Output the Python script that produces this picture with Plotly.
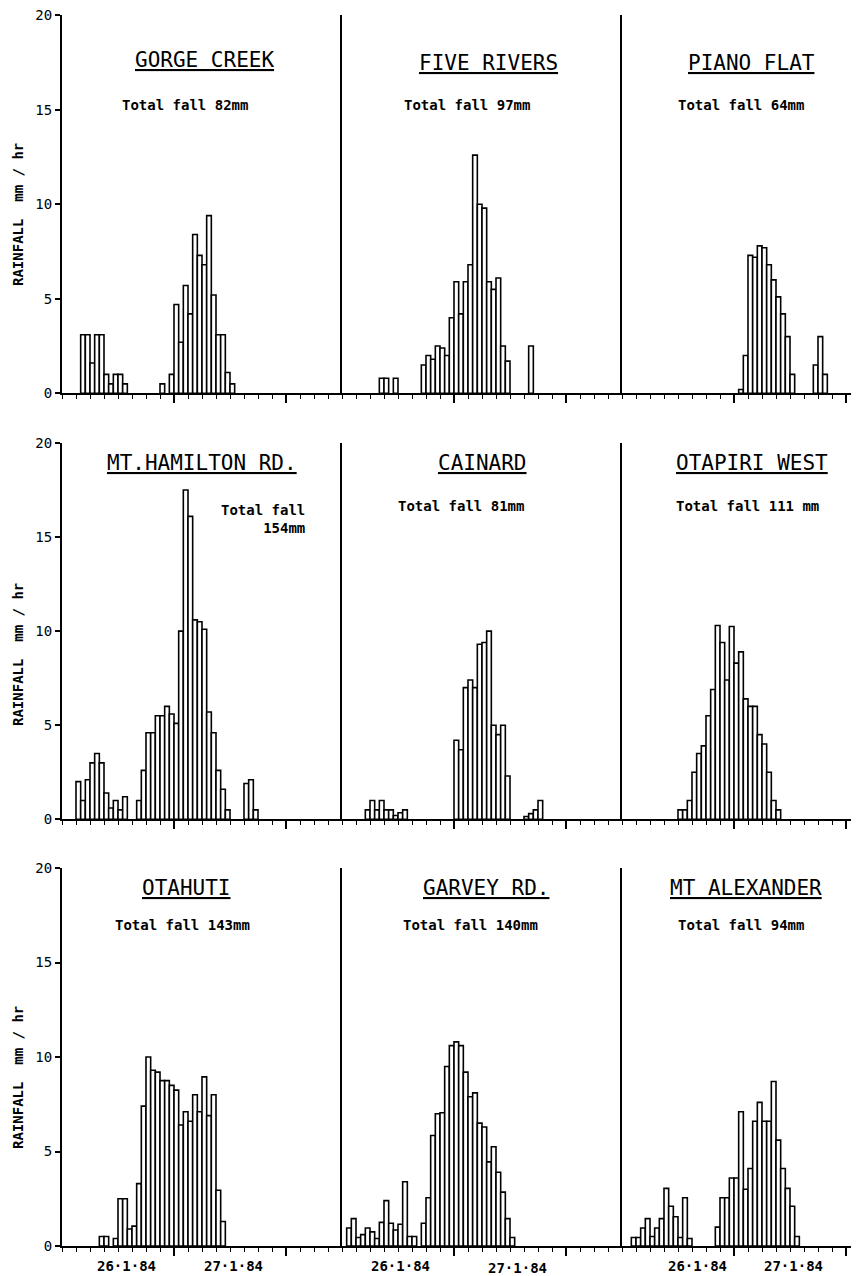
import plotly.graph_objects as go

# The page body has an 8px margin; all layout pixel positions below are page pixels.
OFF = 8
W, H = 859 - OFF, 1276 - OFF
PX_PER_HOUR = 280 / 60.0

# ---------------- data: hourly rainfall (mm/hr), list starts at hour `*_start` -------------
stations = ["GORGE CREEK", "FIVE RIVERS", "PIANO FLAT",
            "MT.HAMILTON RD.", "CAINARD", "OTAPIRI WEST",
            "OTAHUTI", "GARVEY RD.", "MT ALEXANDER"]
totals = ["Total fall 82mm", "Total fall 97mm", "Total fall 64mm",
          "Total fall<br>154mm", "Total fall 81mm", "Total fall 111 mm",
          "Total fall 143mm", "Total fall 140mm", "Total fall 94mm"]

gorge_start = 4
gorge = [3.1, 3.1, 1.6, 3.1, 3.1, 1.0, 0.5, 1.0, 1.0, 0.5, 0, 0, 0, 0, 0, 0, 0,
         0.5, 0, 1.0, 4.7, 2.7, 5.7, 4.2, 8.4, 7.3, 6.8, 9.4, 5.2, 3.1, 3.1, 1.1, 0.5]

five_start = 8
five = [0.8, 0.8, 0, 0.8, 0, 0, 0, 0, 0, 1.5, 2.0, 1.8, 2.5, 2.4, 2.0, 4.0, 5.9,
        4.2, 5.9, 6.8, 12.6, 10.0, 9.8, 5.9, 5.5, 6.1, 2.5, 1.7, 0, 0, 0, 0, 2.5]

piano_start = 25
piano = [0.2, 2.0, 7.3, 7.2, 7.8, 7.7, 6.8, 6.0, 5.1, 4.2, 3.0, 1.0, 0, 0, 0, 0,
         1.5, 3.0, 1.0]

hamilton_start = 3
hamilton = [2.0, 1.0, 2.1, 3.0, 3.5, 3.0, 1.4, 0.6, 1.0, 0.5, 1.2, 0, 0, 1.0, 2.6,
            4.6, 4.6, 5.5, 5.5, 6.0, 5.6, 5.1, 10.0, 17.5, 16.1, 10.6, 10.5, 10.1,
            5.7, 4.6, 2.6, 1.6, 0.5, 0, 0, 0, 1.9, 2.1, 0.5]

cainard_start = 5
cainard = [0.5, 1.0, 0.5, 1.0, 0.5, 0.5, 0.2, 0.35, 0.5, 0, 0, 0, 0, 0, 0, 0, 0, 0,
           0, 4.2, 3.7, 7.0, 7.4, 7.0, 9.3, 9.4, 10.0, 5.0, 4.5, 5.0, 2.3, 0, 0, 0,
           0.15, 0.3, 0.5, 1.0]

otapiri_start = 12
otapiri = [0.5, 0.5, 1.0, 2.5, 3.5, 3.9, 5.5, 6.9, 10.3, 9.4, 7.4, 10.25, 8.3, 8.9,
           6.4, 6.0, 6.0, 4.5, 4.0, 2.5, 1.0, 0.5]

otahuti_start = 8
otahuti = [0.5, 0.5, 0, 0.4, 2.5, 2.5, 0.9, 1.05, 3.3, 7.4, 10.0, 9.3, 9.2, 8.75,
           8.75, 8.5, 8.25, 6.4, 7.1, 6.6, 8.0, 7.1, 8.95, 6.9, 8.0, 2.95, 1.3]

garvey_start = 1
garvey = [0.95, 1.45, 0.45, 0.6, 0.95, 0.75, 0.4, 1.25, 2.4, 1.2, 0.85, 1.15, 3.4,
          0.5, 0.5, 0, 1.2, 2.55, 5.85, 7.0, 7.05, 9.5, 10.6, 10.8, 10.6, 9.2, 7.9,
          8.1, 6.5, 6.3, 4.45, 5.25, 3.9, 2.85, 1.45, 0.45]

alexander_start = 2
alexander = [0.45, 0.45, 0.95, 1.45, 0.5, 0.95, 1.45, 3.05, 2.1, 1.55, 0.45, 2.55,
             0.4, 0, 0, 0, 0, 0, 1.0, 2.55, 2.55, 3.6, 3.6, 7.1, 3.0, 4.1, 6.6,
             7.6, 6.6, 6.6, 8.7, 5.6, 4.1, 3.05, 2.1, 0.5]

series = [(gorge_start, gorge), (five_start, five), (piano_start, piano),
          (hamilton_start, hamilton), (cainard_start, cainard), (otapiri_start, otapiri),
          (otahuti_start, otahuti), (garvey_start, garvey), (alexander_start, alexander)]

y_ticks = [0, 5, 10, 15, 20]
day_ticks = [24, 48]
date_labels = ["26·1·84", "27·1·84"]

# ---------------- layout geometry (page pixels) ----------------
col_px = [(62, 342), (342, 622), (622, 859)]
row_px = [(15.3, 393.3), (443.0, 819.3), (868.0, 1246.0)]

MONO = "DejaVu Sans Mono"
fig = go.Figure()

for k, (start, vals) in enumerate(series):
    n = k + 1
    xs = [start + i + 0.5 for i, v in enumerate(vals) if v > 0]
    ys = [v for v in vals if v > 0]
    fig.add_trace(go.Bar(
        x=xs, y=ys, width=1.0,
        marker=dict(color="white", line=dict(color="black", width=1.6)),
        xaxis=f"x{n}", yaxis=f"y{n}", showlegend=False, hoverinfo="x+y"))

layout = dict(width=W, height=H, margin=dict(l=0, r=0, t=0, b=0),
              paper_bgcolor="white", plot_bgcolor="white",
              template="none", showlegend=False, barmode="overlay")

def fx(px):
    return (px - OFF) / W

def fy(py):
    return 1 - (py - OFF) / H

for k in range(9):
    r, c = divmod(k, 3)
    n = k + 1
    x0, x1 = col_px[c]
    y0, y1 = row_px[r]
    xmax = (x1 - x0) / PX_PER_HOUR
    xa = dict(domain=[fx(x0), min(1.0, fx(x1))], range=[0, xmax], anchor=f"y{n}",
              showline=True, linecolor="black", linewidth=2,
              ticks="outside", tickvals=day_ticks, ticklen=8, tickwidth=1.5,
              tickcolor="black", showticklabels=False,
              minor=dict(ticks="outside", dtick=3, tick0=0, ticklen=4,
                         tickwidth=1, tickcolor="black"),
              showgrid=False, zeroline=False, automargin=False, fixedrange=True)
    ya = dict(domain=[fy(y1), fy(y0)], range=[0, 20], anchor=f"x{n}",
              showline=True, linecolor="black", linewidth=2,
              showgrid=False, zeroline=False, automargin=False, fixedrange=True)
    if c == 0:
        ya.update(ticks="outside", tickvals=y_ticks, ticklen=5, tickwidth=1.5,
                  tickcolor="black", showticklabels=True, ticklabeloverflow="allow",
                  tickfont=dict(family=MONO, size=14, color="black"))
    else:
        ya.update(ticks="", showticklabels=False)
    key = "" if n == 1 else str(n)
    layout["xaxis" + key] = xa
    layout["yaxis" + key] = ya

fig.update_layout(**layout)

title_pos = [(204, 60), (488, 63), (751, 63),
             (202, 463), (482, 463), (752, 463),
             (186, 888), (486, 888), (746, 888)]
total_pos = [(185, 105), (467, 105), (741, 105),
             (307, 519), (461, 506), (747, 506),
             (182, 925), (470, 925), (741, 925)]

for k in range(9):
    tx, ty = title_pos[k]
    fig.add_annotation(x=fx(tx), y=fy(ty), xref="paper", yref="paper", text=stations[k],
                       showarrow=False, xanchor="center", yanchor="middle",
                       font=dict(family=MONO, size=21, color="black", lineposition="under"))
    px_, py_ = total_pos[k]
    if k == 3:
        fig.add_annotation(x=fx(px_), y=fy(py_), xref="paper", yref="paper",
                           text="<b>" + totals[k] + "</b>",
                           showarrow=False, xanchor="right", yanchor="middle", align="right",
                           font=dict(family=MONO, size=14, color="black"))
    else:
        fig.add_annotation(x=fx(px_), y=fy(py_), xref="paper", yref="paper",
                           text="<b>" + totals[k] + "</b>",
                           showarrow=False, xanchor="center", yanchor="middle",
                           font=dict(family=MONO, size=14, color="black"))

# y-axis titles
for cy in [215, 655, 1078]:
    fig.add_annotation(x=fx(18), y=fy(cy), xref="paper", yref="paper",
                       text="<b>RAINFALL  mm / hr</b>",
                       textangle=-90, showarrow=False, xanchor="center", yanchor="middle",
                       font=dict(family=MONO, size=14, color="black"))

# date labels under bottom row
date_px = [[(126, 1266), (234, 1266)], [(400, 1266), (517, 1268)], [(697, 1266), (793, 1266)]]
for c in range(3):
    for j, lab in enumerate(date_labels):
        dx, dy = date_px[c][j]
        fig.add_annotation(x=fx(dx), y=fy(dy), xref="paper", yref="paper",
                           text="<b>" + lab + "</b>",
                           showarrow=False, xanchor="center", yanchor="middle",
                           font=dict(family=MONO, size=14, color="black"))

fig.write_html("out.html")
